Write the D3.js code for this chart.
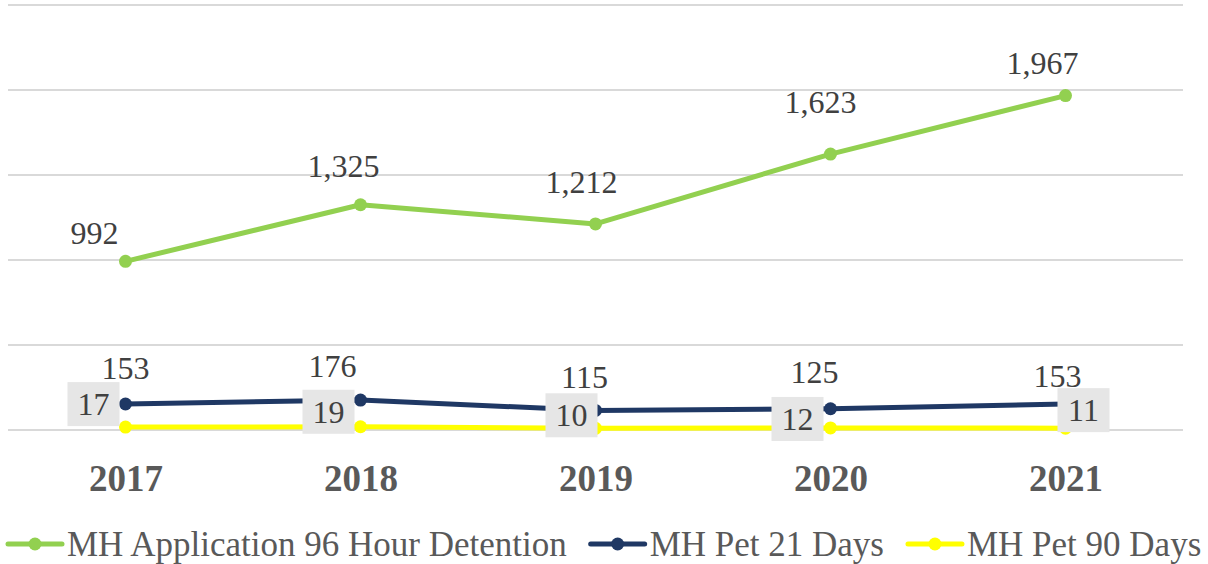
<!DOCTYPE html>
<html>
<head>
    <script src="https://cdn.jsdelivr.net/npm/d3@7"></script>
    <style>
        html, body {
            padding: 0;
            margin: 0;
            background: #fff;
        }
    </style>
</head>
<body>

<script>
    var width = 1208;
    var height = 564;

    // data
    var years = ["2017", "2018", "2019", "2020", "2021"];
    var application96 = [992, 1325, 1212, 1623, 1967];
    var pet21 = [153, 176, 115, 125, 153];
    var pet90 = [17, 19, 10, 12, 11];
    var seriesNames = ["MH Application 96 Hour Detention", "MH Pet 21 Days", "MH Pet 90 Days"];
    var yTicks = [0, 500, 1000, 1500, 2000, 2500];

    // hand-placed label nudges (dx, dy from the point), as in the original
    var greenNudge = [[-31, -17], [-17, -28], [-14, -31], [-10, -41], [-23, -22]];
    var navyNudge = [[0, -25], [-28, -23], [-11, -22], [-16, -26], [-8, -17]];
    var yellowBoxNudge = [[-32, -23], [-32, -15], [-24, -13], [-33, -9], [18, -18]];

    var colors = ["#92d050", "#1f3864", "#ffff00"];
    var font = "'Liberation Serif', 'Times New Roman', serif";

    var svg = d3.select('body').append('svg')
        .attr('width', width)
        .attr('height', height)
        .style('background-color', 'white');

    var x = d3.scalePoint()
        .domain(years)
        .range([8, 1183])
        .padding(0.5);

    var y = d3.scaleLinear()
        .domain([0, 2500])
        .range([430, 5]);

    // gridlines
    svg.append("g").selectAll("line")
        .data(yTicks)
        .enter().append("line")
        .attr("x1", 8)
        .attr("x2", 1183)
        .attr("y1", function (d) { return y(d); })
        .attr("y2", function (d) { return y(d); })
        .style("stroke", "#d9d9d9")
        .style("stroke-width", 2);

    // x axis labels
    var xAxis = svg.append("g")
        .attr("transform", "translate(0, 478)")
        .call(d3.axisBottom(x).tickSize(0).tickPadding(0));
    xAxis.select(".domain").remove();
    xAxis.selectAll("text")
        .attr("dy", "0.35em")
        .style("font-family", font)
        .style("font-weight", "bold")
        .style("font-size", "37px")
        .style("fill", "#595959");

    var line = d3.line()
        .x(function (d, i) { return x(years[i]); })
        .y(function (d) { return y(d); });

    var allSeries = [application96, pet21, pet90];

    // draw yellow first, then navy, then green on top
    [2, 1, 0].forEach(function (s) {
        var g = svg.append("g");
        g.append("path")
            .datum(allSeries[s])
            .attr("d", line)
            .style("fill", "none")
            .style("stroke", colors[s])
            .style("stroke-width", 5)
            .style("stroke-linejoin", "round");
        g.selectAll("circle")
            .data(allSeries[s])
            .enter().append("circle")
            .attr("cx", function (d, i) { return x(years[i]); })
            .attr("cy", function (d) { return y(d); })
            .attr("r", 6.5)
            .style("fill", colors[s]);
    });

    var fmt = d3.format(",");

    // green labels
    svg.append("g").selectAll("text")
        .data(application96)
        .enter().append("text")
        .attr("x", function (d, i) { return x(years[i]) + greenNudge[i][0]; })
        .attr("y", function (d, i) { return y(d) + greenNudge[i][1]; })
        .attr("text-anchor", "middle")
        .style("font-family", font)
        .style("font-size", "32px")
        .style("fill", "#404040")
        .text(function (d) { return fmt(d); });

    // navy labels
    svg.append("g").selectAll("text")
        .data(pet21)
        .enter().append("text")
        .attr("x", function (d, i) { return x(years[i]) + navyNudge[i][0]; })
        .attr("y", function (d, i) { return y(d) + navyNudge[i][1]; })
        .attr("text-anchor", "middle")
        .style("font-family", font)
        .style("font-size", "32px")
        .style("fill", "#404040")
        .text(function (d) { return fmt(d); });

    // yellow labels in grey boxes
    var boxW = 52, boxH = 44;
    var yl = svg.append("g").selectAll("g")
        .data(pet90)
        .enter().append("g")
        .attr("transform", function (d, i) {
            var cx = x(years[i]) + yellowBoxNudge[i][0];
            var cy = y(d) + yellowBoxNudge[i][1];
            return "translate(" + cx + "," + cy + ")";
        });
    yl.append("rect")
        .attr("x", -boxW / 2)
        .attr("y", -boxH / 2)
        .attr("width", boxW)
        .attr("height", boxH)
        .style("fill", "#e6e6e6");
    yl.append("text")
        .attr("y", 11)
        .attr("text-anchor", "middle")
        .style("font-family", font)
        .style("font-size", "32px")
        .style("fill", "#404040")
        .text(function (d) { return d; });

    // legend
    var legend = svg.append("g");
    var lx = 8;
    seriesNames.forEach(function (name, s) {
        legend.append("line")
            .attr("x1", lx)
            .attr("x2", lx + 54)
            .attr("y1", 544)
            .attr("y2", 544)
            .style("stroke", colors[s])
            .style("stroke-width", 5)
            .style("stroke-linecap", "round");
        legend.append("circle")
            .attr("cx", lx + 27)
            .attr("cy", 544)
            .attr("r", 6.5)
            .style("fill", colors[s]);
        var t = legend.append("text")
            .attr("x", lx + 59)
            .attr("y", 556)
            .style("font-family", font)
            .style("font-size", "35px")
            .style("fill", "#595959")
            .text(name);
        lx = lx + 59 + t.node().getComputedTextLength() + 24;
    });
</script>
</body>
</html>
